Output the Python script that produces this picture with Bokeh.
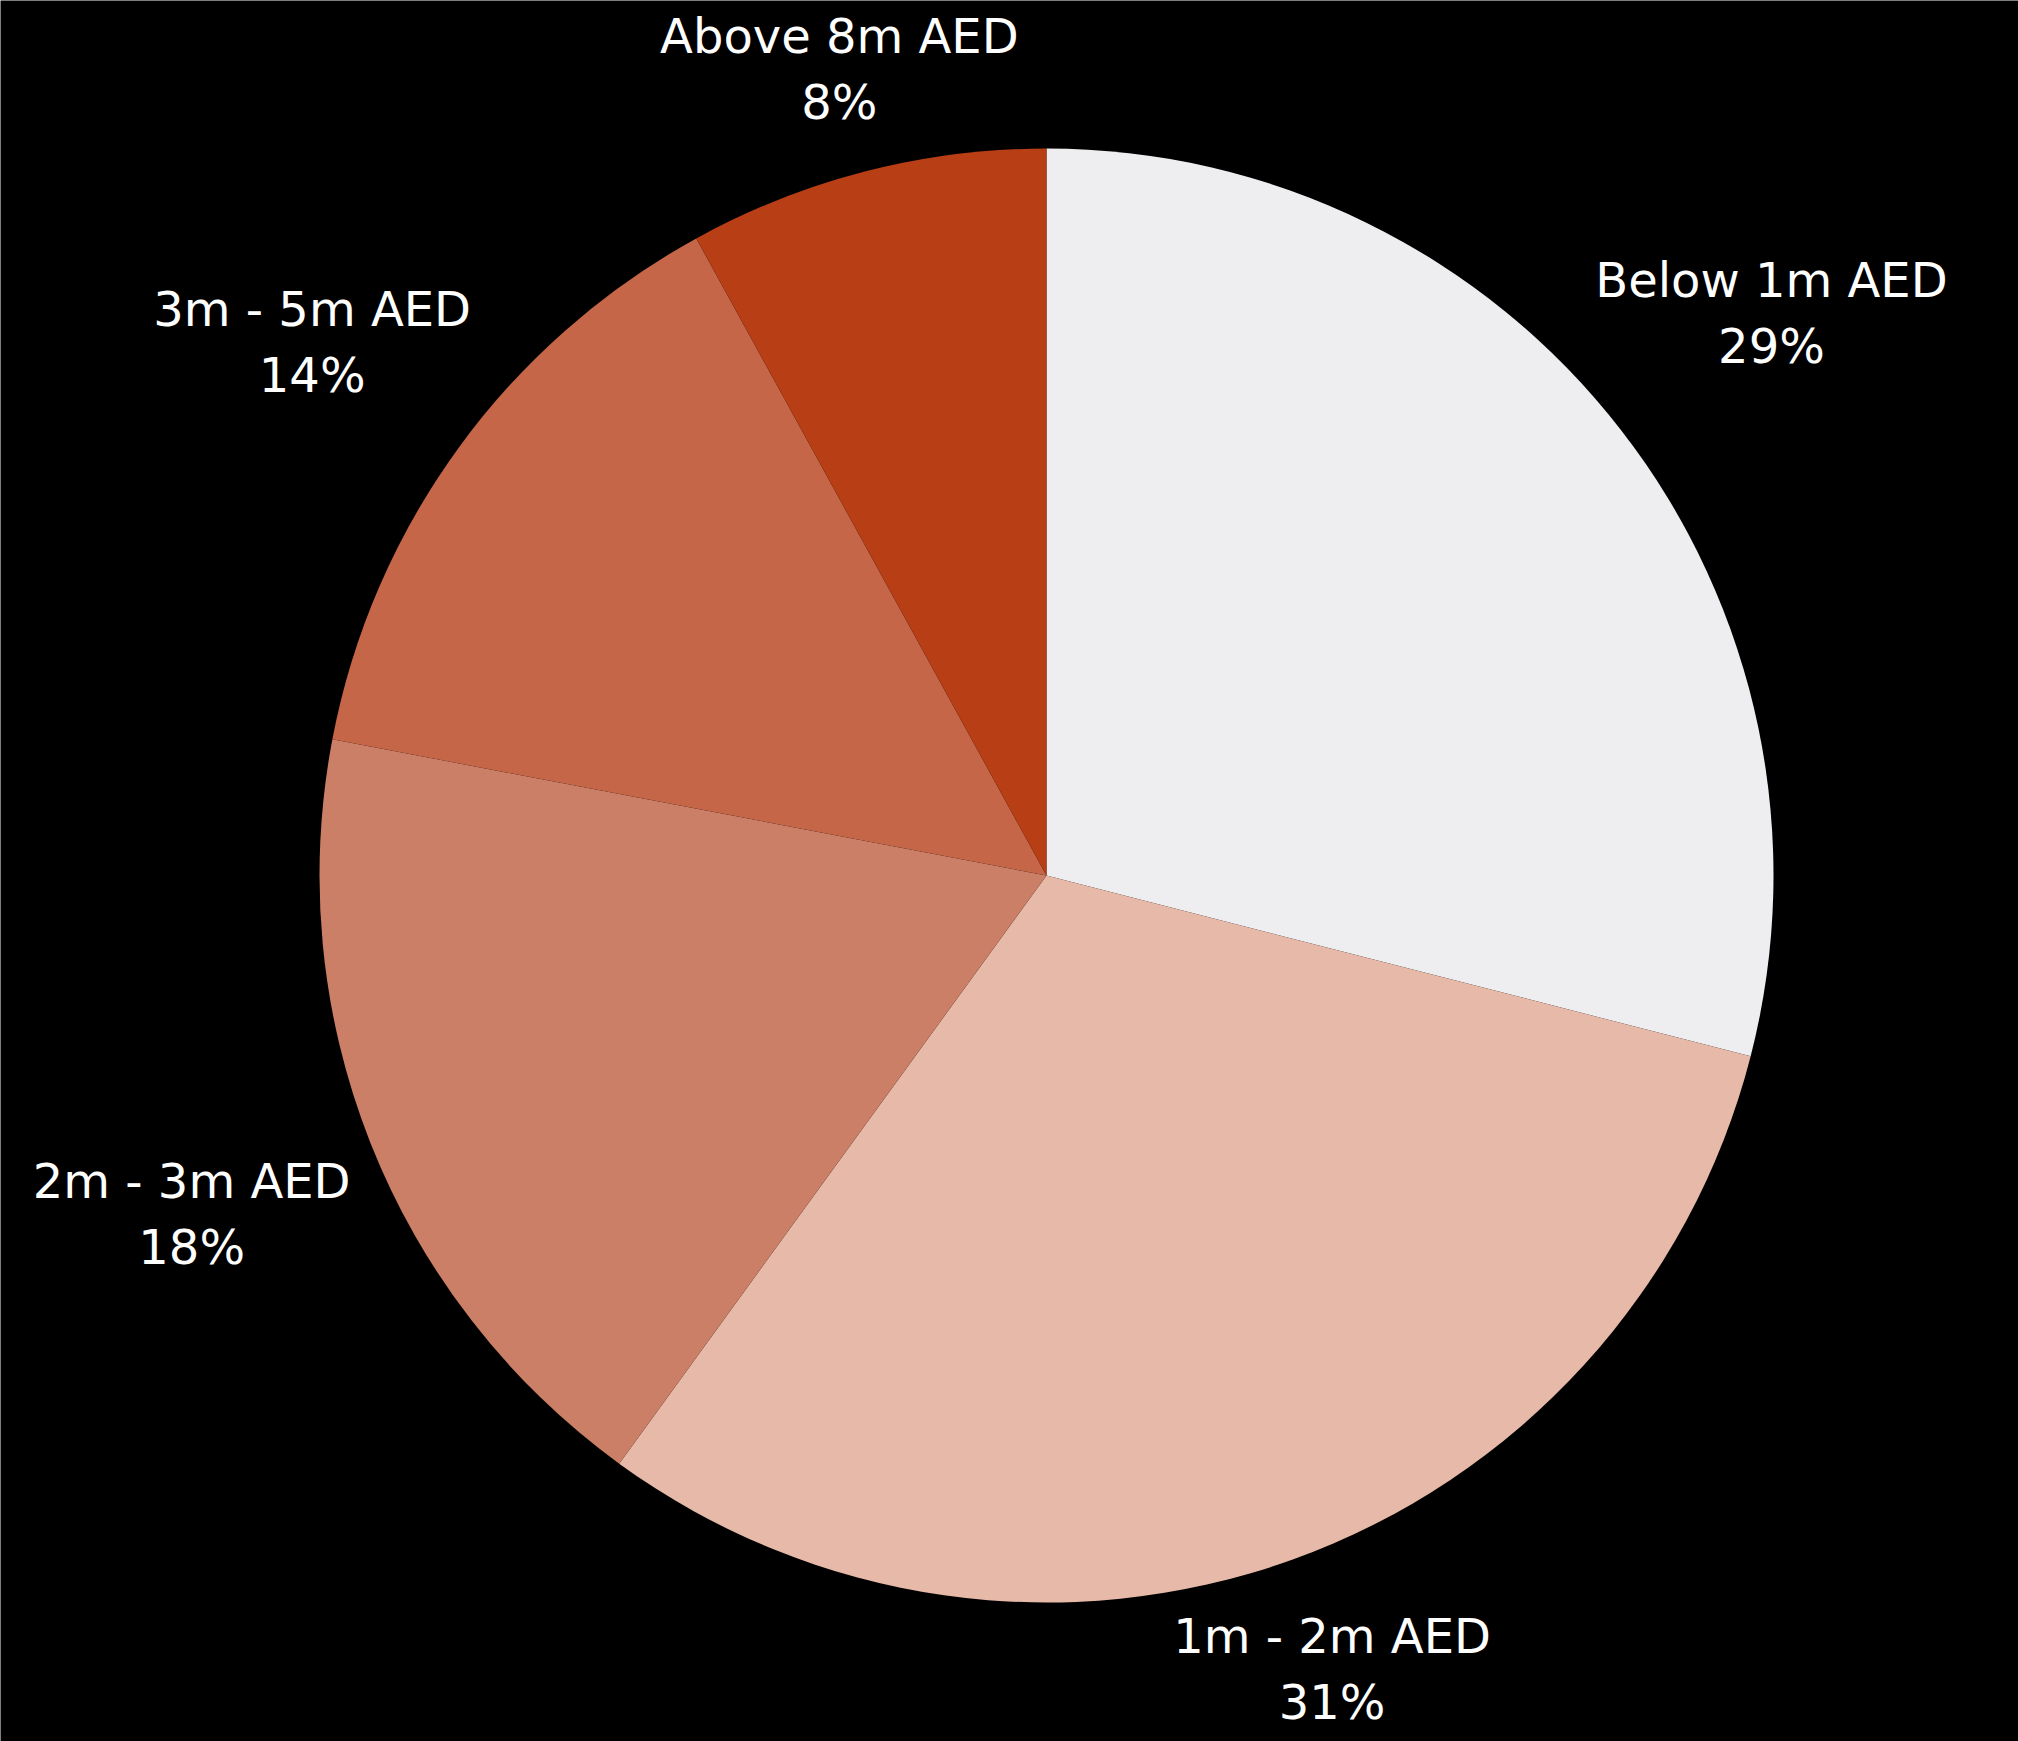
import math
from bokeh.plotting import figure
from bokeh.models import ColumnDataSource
from bokeh.core.properties import value
from bokeh.embed import file_html
from bokeh.resources import INLINE

# ---- data ----
categories = ["Below 1m AED", "1m - 2m AED", "2m - 3m AED", "3m - 5m AED", "Above 8m AED"]
shares = [29, 31, 18, 14, 8]
colors = ["#EEEEF0", "#E7B9A9", "#CA7F66", "#C66648", "#B83E16"]

# ---- layout ----
W, H = 2018, 1741
CX, CY = 1046, H - 875
R = 727
FS = 48
LINE_H = 1.18
GAP = 24
CHAR_HALF_W = 15.1
BLOCK_HALF_H = 38

total = float(sum(shares))
starts, ends, mids = [], [], []
cum = 0.0
for v in shares:
    a0 = math.pi / 2 - 2 * math.pi * cum / total
    cum += v
    a1 = math.pi / 2 - 2 * math.pi * cum / total
    starts.append(a1)
    ends.append(a0)
    mids.append((a0 + a1) / 2)

labels = [f"{c}\n{v}%" for c, v in zip(categories, shares)]
lx, ly = [], []
for c, m in zip(categories, mids):
    hw = len(c) * CHAR_HALF_W
    cs, sn = math.cos(m), math.sin(m)
    d = R + GAP + abs(cs) * hw + abs(sn) * BLOCK_HALF_H
    lx.append(CX + d * cs)
    ly.append(CY + d * sn)

src = ColumnDataSource(dict(start=starts, end=ends, color=colors,
                            x=[CX] * len(shares), y=[CY] * len(shares)))
lsrc = ColumnDataSource(dict(x=lx, y=ly, text=labels))

p = figure(width=W, height=H, x_range=(0, W), y_range=(0, H),
           output_backend="svg", toolbar_location=None, min_border=0,
           background_fill_color="black", border_fill_color="black")
p.axis.visible = False
p.grid.visible = False
p.outline_line_color = None

p.wedge(x="x", y="y", radius=R, start_angle="start", end_angle="end",
        fill_color="color", line_color=None, source=src)

p.text(x="x", y="y", text="text", source=lsrc, text_color="white",
       text_font=value("DejaVu Sans"), text_font_size=f"{FS}px",
       text_align="center", text_baseline="middle", text_line_height=LINE_H)

open("out.html", "w").write(file_html(p, INLINE))
